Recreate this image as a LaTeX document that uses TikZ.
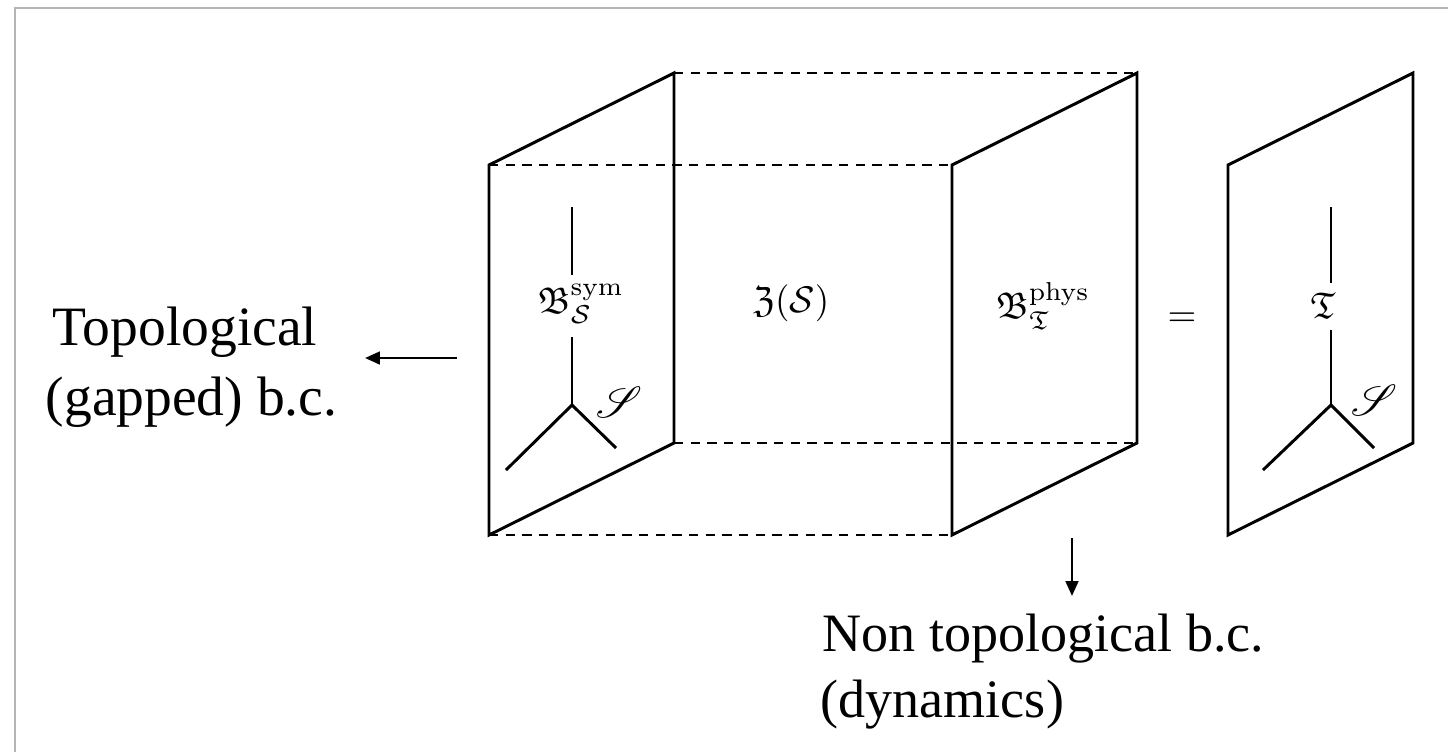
\documentclass[tikz,border=0pt]{standalone}
\usepackage[no-math]{fontspec}
\newfontfamily\timesfont{Liberation Serif}
\usepackage{amssymb}
\usepackage{mathrsfs}
\usetikzlibrary{arrows.meta}
\definecolor{framegray}{RGB}{180,180,180}
\begin{document}
\begin{tikzpicture}[x=0.27pt,y=-0.27pt,
  panel/.style={line width=0.8pt},
  hidden/.style={line width=0.6pt, dash pattern=on 2.5pt off 2pt},
  tree/.style={line width=0.8pt},
  lab/.style={inner sep=0pt},
  biglab/.style={inner sep=0pt, scale=1.18},
  txt/.style={inner sep=0pt, anchor=base west, font=\timesfont\fontsize{14.6}{18}\selectfont},
  txtl/.style={inner sep=0pt, anchor=base west, font=\timesfont\fontsize{15}{18}\selectfont},
  arr/.style={line width=0.7pt, -{Triangle[length=4pt,width=3.4pt]}}]
\useasboundingbox (0,0) rectangle (1448,751);
% outer frame
\draw[framegray, line width=0.8pt] (15,760) -- (15,8) -- (1460,8);

% corners of the three panels
\coordinate (p1ft) at (489,165); \coordinate (p1fb) at (489,535);
\coordinate (p1bt) at (674,73);  \coordinate (p1bb) at (674,443);
\coordinate (p2ft) at (952,165); \coordinate (p2fb) at (952,535);
\coordinate (p2bt) at (1137,73); \coordinate (p2bb) at (1137,443);
\coordinate (p3ft) at (1228,165); \coordinate (p3fb) at (1228,535);
\coordinate (p3bt) at (1413,73);  \coordinate (p3bb) at (1413,443);

% hidden (dashed) edges of the slab
\draw[hidden] (p1ft) -- (p2ft);
\draw[hidden] (p1fb) -- (p2fb);
\draw[hidden] (p1bt) -- (p2bt);
\draw[hidden] (p1bb) -- (p2bb);

% panels
\draw[panel] (p1ft) -- (p1fb) -- (p1bb) -- (p1bt) -- cycle;
\draw[panel] (p2ft) -- (p2fb) -- (p2bb) -- (p2bt) -- cycle;
\draw[panel] (p3ft) -- (p3fb) -- (p3bb) -- (p3bt) -- cycle;

% tree in left panel
\coordinate (t1top) at (572,207); \coordinate (t1a) at (572,275);
\coordinate (t1b) at (572,337);   \coordinate (t1j) at (572,405);
\coordinate (t1l) at (506,470);   \coordinate (t1r) at (616,448);
\draw[tree] (t1top) -- (t1a);
\draw[tree] (t1b) -- (t1j);
\draw[tree] (t1l) -- (t1j) -- (t1r);
\node[lab] (bsym) at (581,304) {$\mathfrak{B}^{\mathrm{sym}}_{\mathcal{S}}$};
\node[biglab] (s1) at (619,402) {$\mathscr{S}$};

% bulk label
\node[lab] (zs) at (791,303) {$\mathfrak{Z}(\mathcal{S})$};

% physical boundary label
\node[lab] (bphys) at (1043,306) {$\mathfrak{B}^{\mathrm{phys}}_{\mathfrak{T}}$};
\node[lab] (eq) at (1182,320) {$=$};

% tree in right panel
\coordinate (t3top) at (1331,207); \coordinate (t3a) at (1331,283);
\coordinate (t3b) at (1331,330);   \coordinate (t3j) at (1331,405);
\coordinate (t3l) at (1263,470);   \coordinate (t3r) at (1374,448);
\draw[tree] (t3top) -- (t3a);
\draw[tree] (t3b) -- (t3j);
\draw[tree] (t3l) -- (t3j) -- (t3r);
\node[lab] (tt) at (1323,306) {$\mathfrak{T}$};
\node[biglab] (s3) at (1374,400) {$\mathscr{S}$};

% left annotation
\node[txtl] (topo1) at (52,345) {Topological};
\node[txtl] (topo2) at (45,415) {(gapped) b.c.};
\coordinate (la) at (457,358); \coordinate (lb) at (365,358);
\draw[arr] (la) -- (lb);

% bottom annotation
\coordinate (da) at (1072,538); \coordinate (db) at (1072,596);
\draw[arr] (da) -- (db);
\node[txt] (non1) at (822,651) {Non topological b.c.};
\node[txt] (non2) at (820,717) {(dynamics)};
\end{tikzpicture}
\end{document}
